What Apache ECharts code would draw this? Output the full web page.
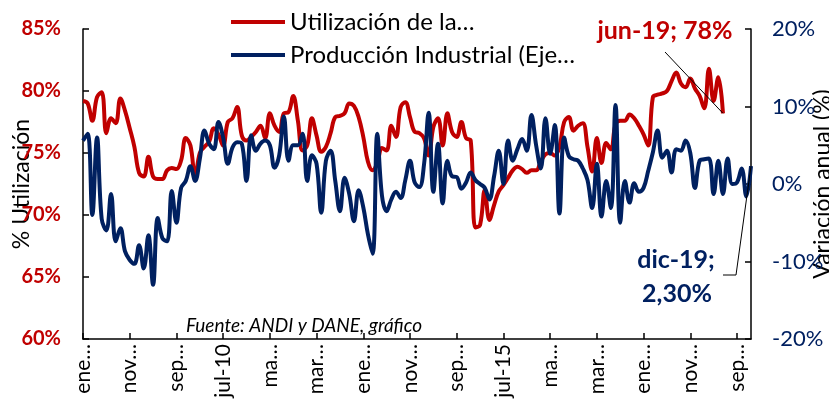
<!DOCTYPE html>
<html lang="es">
<head>
    <meta charset="utf-8"/>
    <title>Utilización de capacidad y producción industrial</title>
    <script src="https://cdn.jsdelivr.net/npm/echarts@6/dist/echarts.min.js"></script>
</head>
<body style="margin: 0; background: #fff">
<div id="chart" style="width: 829px; height: 412px"></div>
<script>
    // months ene-08 .. dic-19
    const MONTHS = ['ene', 'feb', 'mar', 'abr', 'may', 'jun', 'jul', 'ago', 'sep', 'oct', 'nov', 'dic'];
    const YEARS = ['08', '09', '10', '11', '12', '13', '14', '15', '16', '17', '18', '19'];
    const categories = [];
    YEARS.forEach(y => MONTHS.forEach(m => categories.push(m + '-' + y)));

    // tick labels as shown (every 10 months), truncated like the original
    const tickLabels = ['ene…', 'nov…', 'sep…', 'jul-10', 'ma…', 'mar…', 'ene…', 'nov…',
        'sep…', 'jul-15', 'ma…', 'mar…', 'ene…', 'nov…', 'sep…'];

    const legendLabels = ['Utilización de la…', 'Producción Industrial (Eje…'];

    // % utilización (left axis), ene-08 .. jun-19
    const utilizacion = [
        79.2, 79.0, 77.6, 79.5, 79.9, 76.6, 77.8, 77.4, 79.4, 78.4, 77.0, 75.5,
        73.4, 73.1, 74.7, 73.1, 72.9, 72.9, 73.6, 73.8, 73.7, 74.4, 76.2, 75.6,
        73.1, 75.0, 75.5, 75.9, 77.0, 76.5, 75.6, 77.5, 77.8, 78.7, 76.4, 76.0,
        76.3, 76.7, 77.2, 76.2, 78.2, 77.2, 76.7, 78.2, 78.3, 79.6, 77.6, 75.2,
        75.6, 77.8, 76.4, 75.1, 75.5, 76.6, 77.9, 78.0, 78.2, 79.0, 78.8, 77.9,
        76.3, 74.3, 73.6, 74.2, 75.4, 75.2, 77.2, 76.3, 78.7, 79.1, 77.9, 76.7,
        76.6, 76.2, 74.8, 77.1, 77.8, 75.6, 78.2, 76.7, 76.3, 77.5, 76.2, 76.0,
        69.0, 69.2, 72.0, 69.6, 70.8, 71.9, 72.4, 73.0, 73.6, 73.9, 73.7, 73.4,
        73.6, 73.6, 74.3, 74.9, 75.0, 74.8, 75.5, 77.5, 77.9, 76.8, 77.2, 77.4,
        75.5, 73.5, 76.2, 74.2, 75.8, 75.3, 77.3, 77.6, 77.6, 78.1, 77.8, 77.2,
        76.5, 75.6, 79.5, 79.7, 79.8, 80.0, 80.8, 81.5, 80.6, 80.3, 81.0, 80.2,
        79.6, 78.6, 81.8, 79.2, 81.1, 78.2
    ];

    // variación anual producción industrial (right axis), ene-08 .. dic-19
    const produccion = [
        5.6, 6.5, -4.0, 6.0, -4.5, -6.0, -1.3, -7.4, -5.7, -8.7, -9.8, -10.3,
        -7.9, -10.9, -6.6, -13.0, -4.4, -7.0, -7.4, -0.9, -5.0, -0.5, 0.4, 2.3,
        0.4, 3.2, 6.9, 5.2, 4.5, 8.0, 6.0, 2.6, 4.7, 5.4, 5.2, 0.4,
        6.3, 4.3, 5.2, 5.6, 5.0, 2.1, 3.7, 8.7, 3.0, 5.0, 5.0, 6.5,
        0.4, 3.7, 2.6, -3.7, 3.0, 4.3, 0.4, -3.5, 0.8, -1.3, -4.8, -0.8,
        -3.0, -6.5, -9.0, 6.5, -1.5, -3.5, -2.0, -1.0, -1.8, 0.5, 3.0, 0.2,
        -0.4, 2.5, 9.2, -1.0, 5.2, -2.5, 3.0, 1.0, 0.9, -0.6, 0.2, 1.5,
        0.5, 0.0, -0.5, -2.0, 1.0, 4.3, 0.0, 5.6, 3.0, 4.5, 5.8, 4.3,
        8.9, 5.0, 2.0, 8.5, 3.9, 7.6, -3.8, 6.0, 3.6, 3.2, 3.0, 2.0,
        0.5, -3.1, 2.6, -4.2, 0.4, -3.1, 10.2, -5.0, 0.4, -2.4, 0.1, -1.0,
        -0.5, 1.7, 4.1, 6.9, 3.4, 4.3, 1.5, 4.5, 4.3, 5.6, 4.0, -0.5,
        3.0, 3.2, 3.3, -1.3, 3.0, -1.3, 3.3, 0.0, 0.2, 2.0, -1.6, 2.3
    ];

    const RED = '#C00000';
    const NAVY = '#002060';
    const FONT = 'Lato, "Open Sans", sans-serif';

    let chart = echarts.init(document.getElementById('chart'));

    chart.setOption({
        animation: false,
        textStyle: {fontFamily: FONT},
        grid: {left: 83, right: 78, top: 29, bottom: 73, containLabel: false, outerBoundsMode: 'none'},
        legend: {
            orient: 'vertical',
            left: 226,
            top: 5,
            itemWidth: 54,
            itemHeight: 4,
            itemGap: 9,
            icon: 'rect',
            textStyle: {fontSize: 24, color: '#000', fontFamily: FONT},
            formatter: name => name === 'util' ? legendLabels[0] : legendLabels[1]
        },
        xAxis: {
            type: 'category',
            data: categories,
            boundaryGap: false,
            axisLine: {onZero: false, lineStyle: {color: '#000', width: 1.5}},
            axisTick: {inside: true, interval: 9, length: 6, lineStyle: {color: '#000', width: 1.5}},
            axisLabel: {
                interval: 9,
                rotate: 90,
                margin: 5,
                fontSize: 21,
                color: '#000',
                formatter: (val, idx) => tickLabels[Math.round(idx / 10)]
            }
        },
        yAxis: [
            {
                type: 'value',
                min: 60, max: 85, interval: 5,
                name: '% Utilización',
                nameLocation: 'middle',
                nameMoveOverlap: false,
                nameGap: 50,
                nameTextStyle: {fontSize: 23, color: '#000'},
                splitLine: {show: false},
                axisLine: {show: true, lineStyle: {color: '#000', width: 1.5}},
                axisTick: {show: true, inside: true, length: 6, lineStyle: {color: '#000', width: 1.5}},
                axisLabel: {formatter: '{value}%', color: RED, fontWeight: 'bold', fontSize: 20, margin: 22}
            },
            {
                type: 'value',
                min: -20, max: 20, interval: 10,
                name: 'Variación anual (%)',
                nameLocation: 'middle',
                nameMoveOverlap: false,
                nameRotate: 90,
                nameGap: 60,
                nameTextStyle: {fontSize: 23, color: '#000'},
                splitLine: {show: false},
                axisLine: {show: true, lineStyle: {color: '#000', width: 1.5}},
                axisTick: {show: true, inside: true, length: 6, lineStyle: {color: '#000', width: 1.5}},
                axisLabel: {formatter: '{value}%', color: NAVY, fontSize: 22, margin: 21}
            }
        ],
        series: [
            {
                name: 'util',
                type: 'line',
                yAxisIndex: 0,
                data: utilizacion,
                smooth: 0.4,
                showSymbol: false,
                color: RED,
                lineStyle: {width: 4, color: RED},
                z: 2
            },
            {
                name: 'prod',
                type: 'line',
                yAxisIndex: 1,
                data: produccion,
                smooth: 0.4,
                showSymbol: false,
                color: NAVY,
                lineStyle: {width: 4, color: NAVY},
                z: 3
            }
        ]
    });

    // annotations, leader lines end on the last points of each series
    const lastR = utilizacion.length - 1;
    const lastB = produccion.length - 1;
    const pR = chart.convertToPixel({xAxisIndex: 0, yAxisIndex: 0}, [lastR, utilizacion[lastR]]);
    const pB = chart.convertToPixel({xAxisIndex: 0, yAxisIndex: 1}, [lastB, produccion[lastB]]);

    chart.setOption({
        graphic: [
            {
                type: 'text', z: 10,
                style: {text: 'jun-19; 78%', x: 665, y: 31, align: 'center', verticalAlign: 'middle',
                    fill: RED, font: 'bold 25px ' + FONT}
            },
            {
                type: 'line', z: 10,
                shape: {x1: 665, y1: 52, x2: pR[0], y2: pR[1]},
                style: {stroke: '#000', lineWidth: 1}
            },
            {
                type: 'text', z: 10,
                style: {text: 'dic-19;', x: 676, y: 260, align: 'center', verticalAlign: 'middle',
                    fill: NAVY, font: 'bold 25px ' + FONT}
            },
            {
                type: 'text', z: 10,
                style: {text: '2,30%', x: 677, y: 294, align: 'center', verticalAlign: 'middle',
                    fill: NAVY, font: 'bold 25px ' + FONT}
            },
            {
                type: 'polyline', z: 10,
                shape: {points: [[723, 275], [736, 275], [pB[0], pB[1]]]},
                style: {stroke: '#000', lineWidth: 1, fill: null}
            },
            {
                type: 'text', z: 10,
                style: {text: 'Fuente: ANDI y DANE, gráfico', x: 186, y: 326, verticalAlign: 'middle',
                    fill: '#000', font: 'italic 19px ' + FONT}
            }
        ]
    });
</script>
</body>
</html>
